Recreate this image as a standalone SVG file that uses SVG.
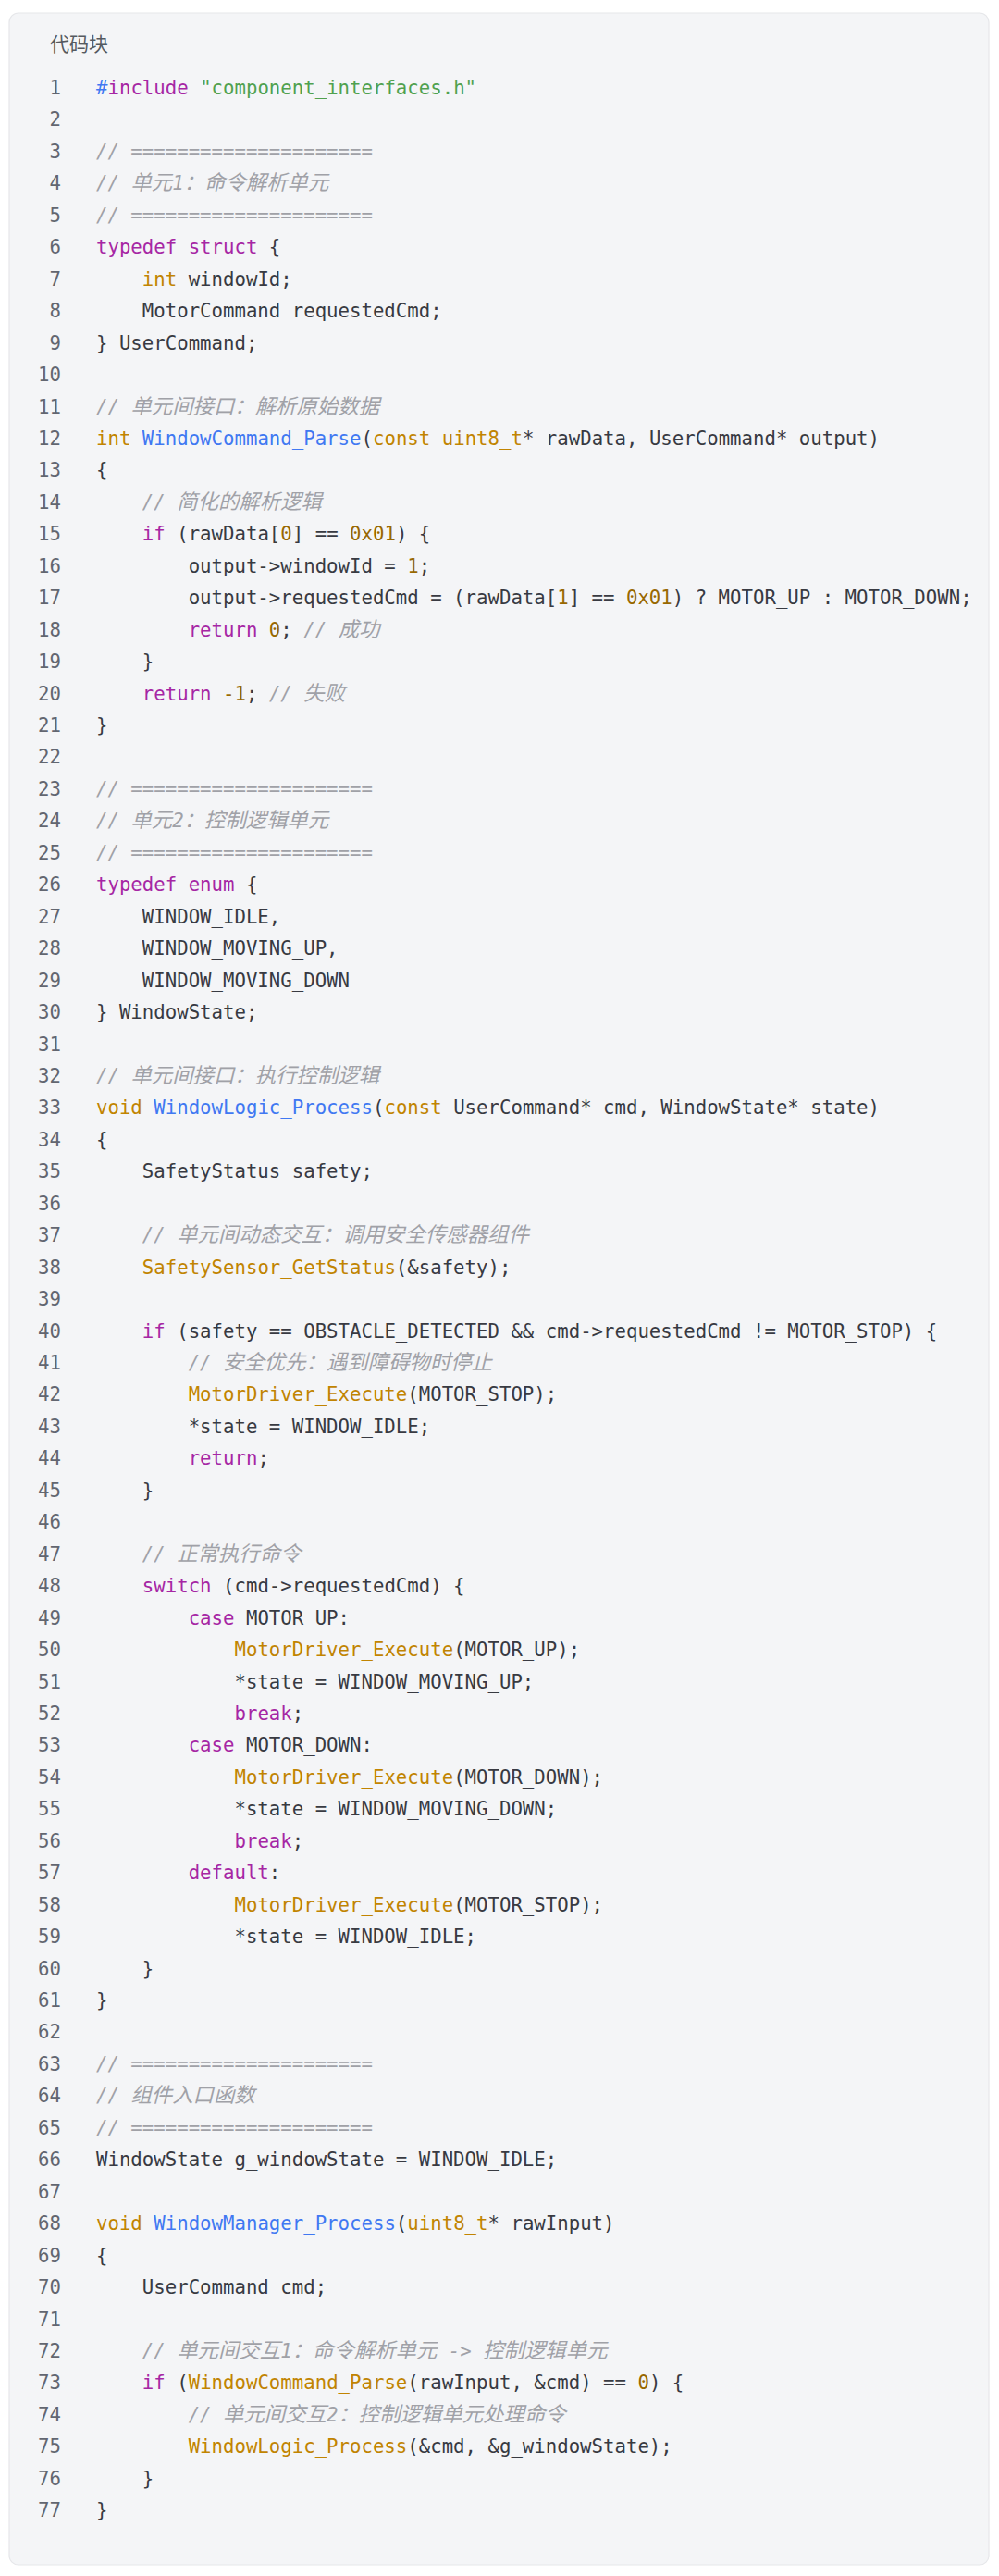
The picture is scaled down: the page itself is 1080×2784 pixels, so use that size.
<svg xmlns="http://www.w3.org/2000/svg" width="1080" height="2784" viewBox="0 0 1080 2784">
<style>
.card{fill:#f4f5f7;stroke:#e6e7ea;stroke-width:1.2}
.title{font-family:"Noto Sans CJK SC","Noto Sans",sans-serif;font-size:21px;fill:#555a60}
.ln{font-family:"DejaVu Sans Mono","Noto Sans CJK SC",monospace;font-size:20.7px;fill:#626670;text-anchor:end}
.c{font-family:"DejaVu Sans Mono","Noto Sans CJK SC",monospace;font-size:20.7px;fill:#383a42}
.k{fill:#a626a4}.s{fill:#50a14f}.cm{fill:#a0a1a7;font-style:italic}.t{fill:#c18401}.f{fill:#4078f2}.n{fill:#986801}.m{fill:#4078f2}
.z{font-size:22.4px}
</style>
<rect width="1080" height="2784" fill="#ffffff"/>
<g id="card">
<rect class="card" x="10" y="14" width="1059" height="2758" rx="10"/>
<text class="title" x="54" y="55">代码块</text>
</g>
<g id="linenumbers">
<text class="ln" x="66" y="102">1</text><text class="ln" x="66" y="136.45">2</text><text class="ln" x="66" y="170.9">3</text><text class="ln" x="66" y="205.35">4</text><text class="ln" x="66" y="239.8">5</text><text class="ln" x="66" y="274.25">6</text><text class="ln" x="66" y="308.7">7</text><text class="ln" x="66" y="343.15">8</text><text class="ln" x="66" y="377.6">9</text><text class="ln" x="66" y="412.05">10</text>
<text class="ln" x="66" y="446.5">11</text><text class="ln" x="66" y="480.95">12</text><text class="ln" x="66" y="515.4">13</text><text class="ln" x="66" y="549.85">14</text><text class="ln" x="66" y="584.3">15</text><text class="ln" x="66" y="618.75">16</text><text class="ln" x="66" y="653.2">17</text><text class="ln" x="66" y="687.65">18</text><text class="ln" x="66" y="722.1">19</text><text class="ln" x="66" y="756.55">20</text>
<text class="ln" x="66" y="791">21</text><text class="ln" x="66" y="825.45">22</text><text class="ln" x="66" y="859.9">23</text><text class="ln" x="66" y="894.35">24</text><text class="ln" x="66" y="928.8">25</text><text class="ln" x="66" y="963.25">26</text><text class="ln" x="66" y="997.7">27</text><text class="ln" x="66" y="1032.15">28</text><text class="ln" x="66" y="1066.6">29</text><text class="ln" x="66" y="1101.05">30</text>
<text class="ln" x="66" y="1135.5">31</text><text class="ln" x="66" y="1169.95">32</text><text class="ln" x="66" y="1204.4">33</text><text class="ln" x="66" y="1238.85">34</text><text class="ln" x="66" y="1273.3">35</text><text class="ln" x="66" y="1307.75">36</text><text class="ln" x="66" y="1342.2">37</text><text class="ln" x="66" y="1376.65">38</text><text class="ln" x="66" y="1411.1">39</text><text class="ln" x="66" y="1445.55">40</text>
<text class="ln" x="66" y="1480">41</text><text class="ln" x="66" y="1514.45">42</text><text class="ln" x="66" y="1548.9">43</text><text class="ln" x="66" y="1583.35">44</text><text class="ln" x="66" y="1617.8">45</text><text class="ln" x="66" y="1652.25">46</text><text class="ln" x="66" y="1686.7">47</text><text class="ln" x="66" y="1721.15">48</text><text class="ln" x="66" y="1755.6">49</text><text class="ln" x="66" y="1790.05">50</text>
<text class="ln" x="66" y="1824.5">51</text><text class="ln" x="66" y="1858.95">52</text><text class="ln" x="66" y="1893.4">53</text><text class="ln" x="66" y="1927.85">54</text><text class="ln" x="66" y="1962.3">55</text><text class="ln" x="66" y="1996.75">56</text><text class="ln" x="66" y="2031.2">57</text><text class="ln" x="66" y="2065.65">58</text><text class="ln" x="66" y="2100.1">59</text><text class="ln" x="66" y="2134.55">60</text>
<text class="ln" x="66" y="2169">61</text><text class="ln" x="66" y="2203.45">62</text><text class="ln" x="66" y="2237.9">63</text><text class="ln" x="66" y="2272.35">64</text><text class="ln" x="66" y="2306.8">65</text><text class="ln" x="66" y="2341.25">66</text><text class="ln" x="66" y="2375.7">67</text><text class="ln" x="66" y="2410.15">68</text><text class="ln" x="66" y="2444.6">69</text><text class="ln" x="66" y="2479.05">70</text>
<text class="ln" x="66" y="2513.5">71</text><text class="ln" x="66" y="2547.95">72</text><text class="ln" x="66" y="2582.4">73</text><text class="ln" x="66" y="2616.85">74</text><text class="ln" x="66" y="2651.3">75</text><text class="ln" x="66" y="2685.75">76</text><text class="ln" x="66" y="2720.2">77</text>
</g>
<g id="code">
<text class="c" x="104" y="102" xml:space="preserve"><tspan class="m">#</tspan><tspan class="k">include</tspan> <tspan class="s">"component_interfaces.h"</tspan></text>
<text class="c" x="104" y="170.9" xml:space="preserve"><tspan class="cm">// =====================</tspan></text>
<text class="c" x="104" y="205.35" xml:space="preserve"><tspan class="cm">// <tspan class="z">单元</tspan>1<tspan class="z">：命令解析单元</tspan></tspan></text>
<text class="c" x="104" y="239.8" xml:space="preserve"><tspan class="cm">// =====================</tspan></text>
<text class="c" x="104" y="274.25" xml:space="preserve"><tspan class="k">typedef</tspan> <tspan class="k">struct</tspan> {</text>
<text class="c" x="104" y="308.7" xml:space="preserve">    <tspan class="t">int</tspan> windowId;</text>
<text class="c" x="104" y="343.15" xml:space="preserve">    MotorCommand requestedCmd;</text>
<text class="c" x="104" y="377.6" xml:space="preserve">} UserCommand;</text>
<text class="c" x="104" y="446.5" xml:space="preserve"><tspan class="cm">// <tspan class="z">单元间接口：解析原始数据</tspan></tspan></text>
<text class="c" x="104" y="480.95" xml:space="preserve"><tspan class="t">int</tspan> <tspan class="f">WindowCommand_Parse</tspan>(<tspan class="t">const</tspan> <tspan class="t">uint8_t</tspan>* rawData, UserCommand* output)</text>
<text class="c" x="104" y="515.4" xml:space="preserve">{</text>
<text class="c" x="104" y="549.85" xml:space="preserve">    <tspan class="cm">// <tspan class="z">简化的解析逻辑</tspan></tspan></text>
<text class="c" x="104" y="584.3" xml:space="preserve">    <tspan class="k">if</tspan> (rawData[<tspan class="n">0</tspan>] == <tspan class="n">0x01</tspan>) {</text>
<text class="c" x="104" y="618.75" xml:space="preserve">        output-&gt;windowId = <tspan class="n">1</tspan>;</text>
<text class="c" x="104" y="653.2" xml:space="preserve">        output-&gt;requestedCmd = (rawData[<tspan class="n">1</tspan>] == <tspan class="n">0x01</tspan>) ? MOTOR_UP : MOTOR_DOWN;</text>
<text class="c" x="104" y="687.65" xml:space="preserve">        <tspan class="k">return</tspan> <tspan class="n">0</tspan>; <tspan class="cm">// <tspan class="z">成功</tspan></tspan></text>
<text class="c" x="104" y="722.1" xml:space="preserve">    }</text>
<text class="c" x="104" y="756.55" xml:space="preserve">    <tspan class="k">return</tspan> <tspan class="n">-1</tspan>; <tspan class="cm">// <tspan class="z">失败</tspan></tspan></text>
<text class="c" x="104" y="791" xml:space="preserve">}</text>
<text class="c" x="104" y="859.9" xml:space="preserve"><tspan class="cm">// =====================</tspan></text>
<text class="c" x="104" y="894.35" xml:space="preserve"><tspan class="cm">// <tspan class="z">单元</tspan>2<tspan class="z">：控制逻辑单元</tspan></tspan></text>
<text class="c" x="104" y="928.8" xml:space="preserve"><tspan class="cm">// =====================</tspan></text>
<text class="c" x="104" y="963.25" xml:space="preserve"><tspan class="k">typedef</tspan> <tspan class="k">enum</tspan> {</text>
<text class="c" x="104" y="997.7" xml:space="preserve">    WINDOW_IDLE,</text>
<text class="c" x="104" y="1032.15" xml:space="preserve">    WINDOW_MOVING_UP,</text>
<text class="c" x="104" y="1066.6" xml:space="preserve">    WINDOW_MOVING_DOWN</text>
<text class="c" x="104" y="1101.05" xml:space="preserve">} WindowState;</text>
<text class="c" x="104" y="1169.95" xml:space="preserve"><tspan class="cm">// <tspan class="z">单元间接口：执行控制逻辑</tspan></tspan></text>
<text class="c" x="104" y="1204.4" xml:space="preserve"><tspan class="t">void</tspan> <tspan class="f">WindowLogic_Process</tspan>(<tspan class="t">const</tspan> UserCommand* cmd, WindowState* state)</text>
<text class="c" x="104" y="1238.85" xml:space="preserve">{</text>
<text class="c" x="104" y="1273.3" xml:space="preserve">    SafetyStatus safety;</text>
<text class="c" x="104" y="1342.2" xml:space="preserve">    <tspan class="cm">// <tspan class="z">单元间动态交互：调用安全传感器组件</tspan></tspan></text>
<text class="c" x="104" y="1376.65" xml:space="preserve">    <tspan class="t">SafetySensor_GetStatus</tspan>(&amp;safety);</text>
<text class="c" x="104" y="1445.55" xml:space="preserve">    <tspan class="k">if</tspan> (safety == OBSTACLE_DETECTED &amp;&amp; cmd-&gt;requestedCmd != MOTOR_STOP) {</text>
<text class="c" x="104" y="1480" xml:space="preserve">        <tspan class="cm">// <tspan class="z">安全优先：遇到障碍物时停止</tspan></tspan></text>
<text class="c" x="104" y="1514.45" xml:space="preserve">        <tspan class="t">MotorDriver_Execute</tspan>(MOTOR_STOP);</text>
<text class="c" x="104" y="1548.9" xml:space="preserve">        *state = WINDOW_IDLE;</text>
<text class="c" x="104" y="1583.35" xml:space="preserve">        <tspan class="k">return</tspan>;</text>
<text class="c" x="104" y="1617.8" xml:space="preserve">    }</text>
<text class="c" x="104" y="1686.7" xml:space="preserve">    <tspan class="cm">// <tspan class="z">正常执行命令</tspan></tspan></text>
<text class="c" x="104" y="1721.15" xml:space="preserve">    <tspan class="k">switch</tspan> (cmd-&gt;requestedCmd) {</text>
<text class="c" x="104" y="1755.6" xml:space="preserve">        <tspan class="k">case</tspan> MOTOR_UP:</text>
<text class="c" x="104" y="1790.05" xml:space="preserve">            <tspan class="t">MotorDriver_Execute</tspan>(MOTOR_UP);</text>
<text class="c" x="104" y="1824.5" xml:space="preserve">            *state = WINDOW_MOVING_UP;</text>
<text class="c" x="104" y="1858.95" xml:space="preserve">            <tspan class="k">break</tspan>;</text>
<text class="c" x="104" y="1893.4" xml:space="preserve">        <tspan class="k">case</tspan> MOTOR_DOWN:</text>
<text class="c" x="104" y="1927.85" xml:space="preserve">            <tspan class="t">MotorDriver_Execute</tspan>(MOTOR_DOWN);</text>
<text class="c" x="104" y="1962.3" xml:space="preserve">            *state = WINDOW_MOVING_DOWN;</text>
<text class="c" x="104" y="1996.75" xml:space="preserve">            <tspan class="k">break</tspan>;</text>
<text class="c" x="104" y="2031.2" xml:space="preserve">        <tspan class="k">default</tspan>:</text>
<text class="c" x="104" y="2065.65" xml:space="preserve">            <tspan class="t">MotorDriver_Execute</tspan>(MOTOR_STOP);</text>
<text class="c" x="104" y="2100.1" xml:space="preserve">            *state = WINDOW_IDLE;</text>
<text class="c" x="104" y="2134.55" xml:space="preserve">    }</text>
<text class="c" x="104" y="2169" xml:space="preserve">}</text>
<text class="c" x="104" y="2237.9" xml:space="preserve"><tspan class="cm">// =====================</tspan></text>
<text class="c" x="104" y="2272.35" xml:space="preserve"><tspan class="cm">// <tspan class="z">组件入口函数</tspan></tspan></text>
<text class="c" x="104" y="2306.8" xml:space="preserve"><tspan class="cm">// =====================</tspan></text>
<text class="c" x="104" y="2341.25" xml:space="preserve">WindowState g_windowState = WINDOW_IDLE;</text>
<text class="c" x="104" y="2410.15" xml:space="preserve"><tspan class="t">void</tspan> <tspan class="f">WindowManager_Process</tspan>(<tspan class="t">uint8_t</tspan>* rawInput)</text>
<text class="c" x="104" y="2444.6" xml:space="preserve">{</text>
<text class="c" x="104" y="2479.05" xml:space="preserve">    UserCommand cmd;</text>
<text class="c" x="104" y="2547.95" xml:space="preserve">    <tspan class="cm">// <tspan class="z">单元间交互</tspan>1<tspan class="z">：命令解析单元</tspan> -&gt; <tspan class="z">控制逻辑单元</tspan></tspan></text>
<text class="c" x="104" y="2582.4" xml:space="preserve">    <tspan class="k">if</tspan> (<tspan class="t">WindowCommand_Parse</tspan>(rawInput, &amp;cmd) == <tspan class="n">0</tspan>) {</text>
<text class="c" x="104" y="2616.85" xml:space="preserve">        <tspan class="cm">// <tspan class="z">单元间交互</tspan>2<tspan class="z">：控制逻辑单元处理命令</tspan></tspan></text>
<text class="c" x="104" y="2651.3" xml:space="preserve">        <tspan class="t">WindowLogic_Process</tspan>(&amp;cmd, &amp;g_windowState);</text>
<text class="c" x="104" y="2685.75" xml:space="preserve">    }</text>
<text class="c" x="104" y="2720.2" xml:space="preserve">}</text>
</g>
</svg>
